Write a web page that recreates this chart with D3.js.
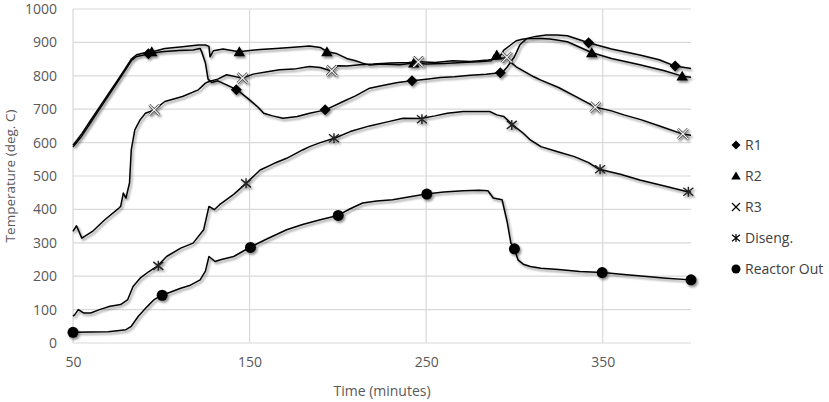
<!DOCTYPE html>
<html><head><meta charset="utf-8">
<script src="https://cdn.jsdelivr.net/npm/d3@7"></script>
<style>
html,body{margin:0;padding:0;background:#fff;}
svg text{font-family:"Open Sans",sans-serif;}
</style></head>
<body><svg id="chart" width="829" height="402"></svg>
<script>
// ---- data ----
const xTicks = [50, 150, 250, 350];
const yTicks = [0,100,200,300,400,500,600,700,800,900,1000];
const seriesNames = ["R1", "R2", "R3", "Diseng.", "Reactor Out"];

const r1Time = [50,55,60,65,70,75,80,83,86,90,93,100,110,118,122,123,125,126.5,128.5,132,137,143,150,155,158,163,169,177,184,193,203,210,218,226,234,242,250,258,266,275,284,292,294,296,298,300,303,307,312,318,324,330,342,355,371,382,391,400];
const r1Temp = [587,620,660,700,740,780,820,845,858,862,866,872,876,877,882,870,838,790,780,785,773,758,728,705,688,680,673,678,688,698,723,740,763,772,780,785,790,795,797,802,805,809,815,827,842,857,892,912,918,922,922,920,899,880,862,848,829,822];

const r2Time = [50,55,60,65,70,75,80,83,86,90,95,102,112,121,125,127,127.6,129.5,135,144,150,156,165,173,184,190,194,199,205,210,214,218,225,235,243,250,260,270,280,287,288.5,290,292,294,298,301,305,310,315,320,324,330,344,355,371,385,395,400];
const r2Temp = [592,627,667,706,746,785,825,850,863,868,872,882,887,892,892,888,857,875,880,872,876,879,882,885,889,885,872,867,852,845,838,832,835,833,838,835,837,840,842,845,862,855,860,877,893,905,910,912,912,910,907,902,869,852,833,815,799,796];

const r3Time = [50,52,55,61,68,76,77,78.5,80,82,83,84,85,88,91,96,102,112,121,125,127,132,137,146,152,160,167,175,184,190,196,200,205,214,220,230,240,246,255,265,275,285,290,296,298,301,306,311,315,325,334,346,355,362,372,383,395,400];
const r3Temp = [334,351,314,334,369,404,409,449,434,479,578,608,638,668,688,698,723,738,758,778,783,790,803,793,805,812,818,820,828,825,815,830,829,834,835,838,840,842,840,845,843,847,850,855,840,827,812,797,787,765,740,706,695,683,668,648,626,622];

const disTime = [50,51,53,56,60,65,71,77,81,84,88,93,98,103,111,118,124,127,130,133,141,148,156,164,171,180,184,190,198,207,218,228,237,247,255,262,271,280,286,290,294,299,305,309,315,325,334,342,348,360,371,385,398,400];
const disTemp = [80,85,100,90,90,100,110,115,130,169,194,214,231,259,284,299,339,409,399,414,445,478,518,538,553,578,588,600,613,633,650,662,673,672,680,688,693,693,693,683,678,653,628,608,588,572,558,540,520,505,488,470,453,452];

const outTime = [50,60,70,80,83,87,92,96,100,105,111,116,122,125,127,130.5,134,141,150,160,171,180,190,200,207,214,222,231,240,250,260,271,280,285,288,293,296,298,300,302,305,309,315,325,337,350,362,375,386,400];
const outTemp = [32,33,34,40,50,80,109,130,143,152,164,172,189,215,259,244,250,259,286,312,339,355,369,382,402,419,425,429,437,446,452,456,457,456,434,429,360,299,282,249,236,229,224,220,214,211,205,199,194,189];

// marker points
const r1MarkTime = [92.7,142.5,192.8,242,292,342,391];
const r1MarkTemp = [866,758,698,785,809,899,829];
const r2MarkTime = [94.6,144.2,193.8,243,290,343.8,395];
const r2MarkTemp = [872,872,872,838,862,869,799];
const r3MarkTime = [96,146,196.5,245.6,295.7,345.8,395.4];
const r3MarkTemp = [698,793,815,842,855,706,626];
const disMarkTime = [98.3,148,197.8,247.6,298.5,348.5,398.5];
const disMarkTemp = [231,478,613,670,653,520,453];
const outMarkTime = [50,100.5,150.5,200.2,250.4,300,349.7,400];
const outMarkTemp = [32,143,286,382,446,282,211,189];

// ---- layout ----
const svg = d3.select("#chart");
const L = 73, R = 691, T = 9, B = 343;
const x = d3.scaleLinear().domain([50, 400]).range([L, R]);
const y = d3.scaleLinear().domain([0, 1000]).range([B, T]);

const defs = svg.append("defs");
const f = defs.append("filter").attr("id","sh").attr("x","-20%").attr("y","-20%").attr("width","140%").attr("height","140%");
f.append("feDropShadow").attr("dx",1.5).attr("dy",2).attr("stdDeviation",1.1).attr("flood-color","#000").attr("flood-opacity",0.45);

// gridlines
svg.append("g").selectAll("line").data(yTicks).join("line")
  .attr("x1", L).attr("x2", R).attr("y1", d=>y(d)).attr("y2", d=>y(d))
  .attr("stroke", "#d9d9d9").attr("stroke-width", 1.2);
svg.append("g").selectAll("line").data(xTicks).join("line")
  .attr("x1", d=>x(d)).attr("x2", d=>x(d)).attr("y1", T).attr("y2", B)
  .attr("stroke", "#d9d9d9").attr("stroke-width", 1.2);

// axes (labels only)
const yAxis = d3.axisLeft(y).tickValues(yTicks).tickSize(0).tickPadding(16).tickFormat(d3.format("d"));
const gy = svg.append("g").attr("transform", `translate(${L},0)`).call(yAxis);
gy.select(".domain").remove();
gy.selectAll("text").attr("fill","#595959").style("font-size","14px");

const xAxis = d3.axisBottom(x).tickValues(xTicks).tickSize(0).tickPadding(14);
const gx = svg.append("g").attr("transform", `translate(0,${B})`).call(xAxis);
gx.select(".domain").remove();
gx.selectAll("text").attr("fill","#595959").style("font-size","14px");

svg.append("text").attr("x", (L+R)/2).attr("y", 396).attr("text-anchor","middle")
  .attr("fill","#595959").style("font-size","14px").text("Time (minutes)");
svg.append("text").attr("transform", `translate(15,${(T+B)/2}) rotate(-90)`).attr("text-anchor","middle")
  .attr("fill","#595959").style("font-size","13.5px").text("Temperature (deg. C)");

// markers
function markerPath(type, s){
  if(type==="diamond") return `M0,${-s}L${s},0L0,${s}L${-s},0Z`;
  if(type==="triangle") return `M0,${-s}L${s*1.05},${s*0.8}L${-s*1.05},${s*0.8}Z`;
  if(type==="x") return `M${-s},${-s}L${s},${s}M${-s},${s}L${s},${-s}`;
  if(type==="star") return `M${-s},${-s*0.8}L${s},${s*0.8}M${-s},${s*0.8}L${s},${-s*0.8}M0,${-s}L0,${s}`;
  return "";
}

const series = [
  {t:r1Time, v:r1Temp, mt:r1MarkTime, mv:r1MarkTemp, m:"diamond"},
  {t:r2Time, v:r2Temp, mt:r2MarkTime, mv:r2MarkTemp, m:"triangle"},
  {t:r3Time, v:r3Temp, mt:r3MarkTime, mv:r3MarkTemp, m:"x"},
  {t:disTime, v:disTemp, mt:disMarkTime, mv:disMarkTemp, m:"star"},
  {t:outTime, v:outTemp, mt:outMarkTime, mv:outMarkTemp, m:"circle"}
];

const line = d3.line().x(d=>x(d[0])).y(d=>y(d[1]));
const plot = svg.append("g").attr("filter","url(#sh)");
series.forEach(s=>{
  const pts = s.t.map((t,i)=>[t, s.v[i]]);
  plot.append("path").attr("d", line(pts)).attr("fill","none").attr("stroke","#000")
    .attr("stroke-width",1.5).attr("stroke-linejoin","round");
});
series.forEach(s=>{
  const g = plot.append("g");
  s.mt.forEach((t,i)=>{
    const cx = x(t), cy = y(s.mv[i]);
    if(s.m==="circle"){
      g.append("circle").attr("cx",cx).attr("cy",cy).attr("r",5.5).attr("fill","#000");
    } else if(s.m==="x"){
      g.append("path").attr("transform",`translate(${cx},${cy})`).attr("d",markerPath("x",5))
        .attr("stroke","#444").attr("stroke-width",2.6).attr("fill","none");
      g.append("path").attr("transform",`translate(${cx},${cy})`).attr("d",markerPath("x",5))
        .attr("stroke","#fff").attr("stroke-width",1.1).attr("fill","none");
    } else if(s.m==="star"){
      g.append("path").attr("transform",`translate(${cx},${cy})`).attr("d",markerPath("star",5))
        .attr("stroke","#222").attr("stroke-width",1.4).attr("fill","none");
    } else {
      g.append("path").attr("transform",`translate(${cx},${cy})`).attr("d",markerPath(s.m,5.5))
        .attr("fill","#000");
    }
  });
});

// legend
const legY = [145, 176, 207, 238, 269];
const leg = svg.append("g");
series.forEach((s,i)=>{
  const cy = legY[i], cx = 736;
  if(s.m==="circle") leg.append("circle").attr("cx",cx).attr("cy",cy).attr("r",4.5).attr("fill","#000");
  else if(s.m==="x"||s.m==="star") leg.append("path").attr("transform",`translate(${cx},${cy})`).attr("d",markerPath(s.m,4)).attr("stroke","#000").attr("stroke-width",1.2).attr("fill","none");
  else leg.append("path").attr("transform",`translate(${cx},${cy})`).attr("d",markerPath(s.m,4.5)).attr("fill","#000");
  leg.append("text").attr("x",745).attr("y",cy).attr("dy","0.35em").attr("fill","#404040")
    .style("font-size","14px").text(seriesNames[i]);
});
</script></body></html>
